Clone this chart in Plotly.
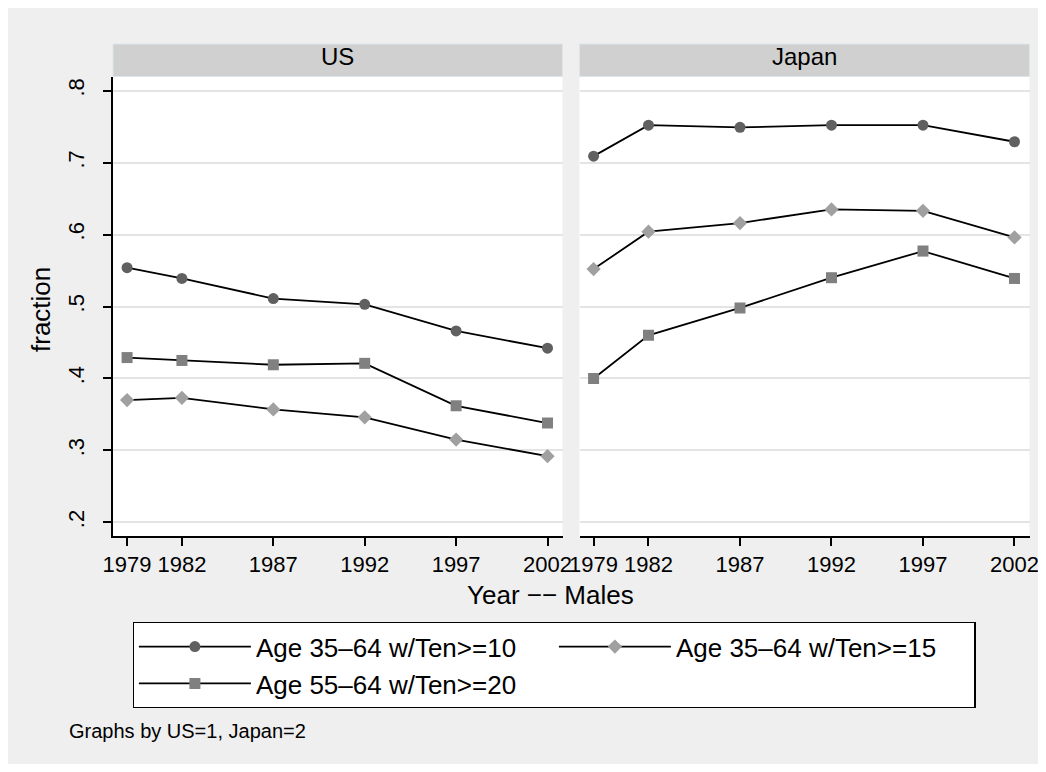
import plotly.graph_objects as go

# ---------------- data ----------------
years = [1979, 1982, 1987, 1992, 1997, 2002]
y_tick_vals = [0.2, 0.3, 0.4, 0.5, 0.6, 0.7, 0.8]
y_tick_text = [".2", ".3", ".4", ".5", ".6", ".7", ".8"]
panels = ["US", "Japan"]
series_names = ["Age 35–64 w/Ten>=10", "Age 35–64 w/Ten>=15", "Age 55–64 w/Ten>=20"]

us_ten10 = [0.554, 0.539, 0.511, 0.503, 0.466, 0.442]
us_ten15 = [0.370, 0.373, 0.357, 0.346, 0.315, 0.292]
us_ten20 = [0.429, 0.425, 0.419, 0.421, 0.362, 0.338]

jp_ten10 = [0.709, 0.752, 0.749, 0.752, 0.752, 0.729]
jp_ten15 = [0.552, 0.604, 0.616, 0.635, 0.633, 0.596]
jp_ten20 = [0.400, 0.460, 0.498, 0.540, 0.577, 0.539]

# ---------------- styles ----------------
FONT = "Liberation Sans, Arial, Helvetica, sans-serif"
W, H = 1034, 756
OFF = 8  # page body margin


def fx(px):
    return (px - OFF) / W


def fy(py):
    return 1 - (py - OFF) / H


marker_styles = [
    dict(symbol="circle", color="#606060", size=11),
    dict(symbol="diamond", color="#a0a0a0", size=11),
    dict(symbol="square", color="#808080", size=11),
]

fig = go.Figure()

panel_data = {
    "US": [us_ten10, us_ten15, us_ten20],
    "Japan": [jp_ten10, jp_ten15, jp_ten20],
}
axis_ids = {"US": ("x", "y"), "Japan": ("x2", "y2")}

for p_i, panel in enumerate(panels):
    xa, ya = axis_ids[panel]
    for s_i, (name, vals) in enumerate(zip(series_names, panel_data[panel])):
        fig.add_trace(go.Scatter(
            x=years, y=vals, name=name, mode="lines+markers",
            line=dict(color="black", width=1.8),
            marker=dict(**marker_styles[s_i], line=dict(width=0)),
            xaxis=xa, yaxis=ya,
            showlegend=(p_i == 0), legendgroup=name,
        ))

x_range = [1978.23, 2002.82]
y_range = [0.181, 0.819]

common_x = dict(
    range=x_range, tickvals=years, ticktext=[str(y) for y in years],
    showgrid=False, zeroline=False, showline=True, linecolor="black", linewidth=1.5,
    ticks="outside", ticklen=8, tickwidth=1.5, tickcolor="black", automargin=False,
    ticklabeloverflow="allow",
    tickfont=dict(family=FONT, size=22, color="black"), fixedrange=True,
)
common_y = dict(
    range=y_range, tickvals=y_tick_vals, ticktext=y_tick_text,
    showgrid=True, gridcolor="#e4e4e4", gridwidth=1.6, zeroline=False,
    fixedrange=True, automargin=False,
)

fig.update_layout(
    width=W, height=H,
    margin=dict(l=0, r=0, t=0, b=0, autoexpand=False),
    paper_bgcolor="#efefef", plot_bgcolor="white",
    font=dict(family=FONT, color="black"),
    xaxis=dict(domain=[fx(113), fx(562.5)], anchor="y", **common_x),
    xaxis2=dict(domain=[fx(579.5), fx(1029.5)], anchor="y2", **common_x),
    yaxis=dict(domain=[fy(536), fy(77)], anchor="x", showline=True, linecolor="black",
               linewidth=1.5, ticks="outside", ticklen=8, tickwidth=1.5, tickcolor="black",
               tickangle=-90, ticklabelstandoff=10,
               tickfont=dict(family=FONT, size=22, color="black"), **common_y),
    yaxis2=dict(domain=[fy(536), fy(77)], anchor="x2", matches="y", showline=False,
                showticklabels=False, ticks="", **common_y),
    legend=dict(
        orientation="h", x=fx(132.7), xanchor="left", y=fy(622), yanchor="top",
        bgcolor="white", bordercolor="black", borderwidth=1.2,
        font=dict(family=FONT, size=26, color="black"),
        itemwidth=112, entrywidth=293, entrywidthmode="pixels",
        traceorder="normal", itemsizing="trace",
    ),
)

# strip headers
strips = {"US": (113, 562.5), "Japan": (579.5, 1029.5)}
for panel in panels:
    x0, x1 = strips[panel]
    fig.add_shape(type="rect", xref="paper", yref="paper",
                  x0=fx(x0), x1=fx(x1), y0=fy(76.5), y1=fy(44),
                  fillcolor="#d0d0d0", line=dict(color="#dbe5ea", width=1), layer="above")
    fig.add_annotation(text=panel, xref="paper", yref="paper",
                       x=fx((x0 + x1) / 2), y=fy(56), xanchor="center", yanchor="middle",
                       showarrow=False, font=dict(family=FONT, size=24, color="black"))

# axis titles and note
fig.add_annotation(text="fraction", textangle=-90, xref="paper", yref="paper",
                   x=fx(41), y=fy(310), xanchor="center", yanchor="middle",
                   showarrow=False, font=dict(family=FONT, size=26, color="black"))
fig.add_annotation(text="Year −− Males", xref="paper", yref="paper",
                   x=fx(550), y=fy(594.7), xanchor="center", yanchor="middle",
                   showarrow=False, font=dict(family=FONT, size=26, color="black"))
fig.add_annotation(text="Graphs by US=1, Japan=2", xref="paper", yref="paper",
                   x=fx(67), y=fy(730.8), xanchor="left", yanchor="middle",
                   showarrow=False, font=dict(family=FONT, size=20, color="black"))

fig.write_html("out.html", config=dict(displayModeBar=False))
